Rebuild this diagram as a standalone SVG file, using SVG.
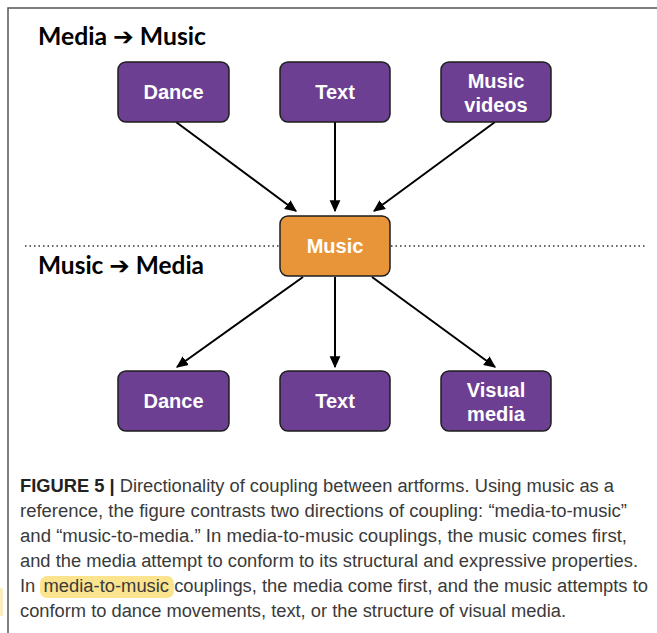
<svg xmlns="http://www.w3.org/2000/svg" width="657" height="633" viewBox="0 0 657 633">
<defs>
<marker id="ah" viewBox="0 0 10 10" refX="9" refY="5" markerWidth="6" markerHeight="6" orient="auto" markerUnits="strokeWidth">
<path d="M0,0.5 L10,5 L0,9.5 Z" fill="#000"/>
</marker>
<style>
.box{fill:#6d3f92;stroke:#1e1e1e;stroke-width:1.5}
.ctr{fill:#e8953a;stroke:#1e1e1e;stroke-width:1.5}
.lbl{font-family:"Liberation Sans",Arial,sans-serif;font-weight:bold;font-size:20px;fill:#fff;text-anchor:middle}
.head{font-family:Lato,"Open Sans","DejaVu Sans",sans-serif;font-weight:bold;font-size:24px;fill:#000}
.cap{font-family:"Liberation Sans",Arial,sans-serif;font-size:18px;fill:#3a3a3a}
.conn line{stroke:#000;stroke-width:2;marker-end:url(#ah)}
.dot{stroke:#333;stroke-width:1.3;stroke-dasharray:1.5 3}
</style>
</defs>
<rect width="657" height="633" fill="#fff"/>
<rect x="0" y="588" width="3" height="28" fill="#fcefbf"/>
<path d="M8,633 V8 H657" fill="none" stroke="#555" stroke-width="1.5"/>
<line class="dot" x1="25" y1="246" x2="280" y2="246"/>
<line class="dot" x1="391" y1="246" x2="645" y2="246"/>
<text class="head" x="38" y="45" textLength="168" lengthAdjust="spacingAndGlyphs">Media ➔ Music</text>
<text class="head" x="38" y="274" textLength="166" lengthAdjust="spacingAndGlyphs">Music ➔ Media</text>
<g class="conn">
<line x1="176" y1="122" x2="296" y2="211"/>
<line x1="335" y1="122" x2="335" y2="211"/>
<line x1="495" y1="122" x2="374" y2="211"/>
<line x1="303" y1="277" x2="177" y2="367"/>
<line x1="335" y1="277" x2="335" y2="367"/>
<line x1="372" y1="277" x2="495" y2="367"/>
</g>
<g id="n-dance-top"><rect class="box" x="118" y="62" width="111" height="60" rx="8"/><text class="lbl" x="173.5" y="99">Dance</text></g>
<g id="n-text-top"><rect class="box" x="280" y="62" width="110" height="60" rx="8"/><text class="lbl" x="335" y="99">Text</text></g>
<g id="n-musicvideos"><rect class="box" x="441" y="62" width="110" height="60" rx="8"/><text class="lbl" x="496" y="88">Music</text><text class="lbl" x="496" y="112">videos</text></g>
<g id="n-music"><rect class="ctr" x="280" y="216" width="110" height="60" rx="8"/><text class="lbl" x="335" y="253">Music</text></g>
<g id="n-dance-bot"><rect class="box" x="118" y="371" width="111" height="60" rx="8"/><text class="lbl" x="173.5" y="408">Dance</text></g>
<g id="n-text-bot"><rect class="box" x="280" y="371" width="110" height="60" rx="8"/><text class="lbl" x="335" y="408">Text</text></g>
<g id="n-visualmedia"><rect class="box" x="441" y="371" width="110" height="60" rx="8"/><text class="lbl" x="496" y="397">Visual</text><text class="lbl" x="496" y="421">media</text></g>
<rect x="40" y="576" width="134" height="22" rx="7" fill="#fce48f"/>
<text class="cap" x="20" y="492" textLength="594" lengthAdjust="spacingAndGlyphs"><tspan font-weight="bold" fill="#222">FIGURE 5 |</tspan> Directionality of coupling between artforms. Using music as a</text>
<text class="cap" x="20" y="517" textLength="607" lengthAdjust="spacingAndGlyphs">reference, the figure contrasts two directions of coupling: “media-to-music”</text>
<text class="cap" x="20" y="542" textLength="607" lengthAdjust="spacingAndGlyphs">and “music-to-media.” In media-to-music couplings, the music comes first,</text>
<text class="cap" x="20" y="567" textLength="618" lengthAdjust="spacingAndGlyphs">and the media attempt to conform to its structural and expressive properties.</text>
<text class="cap" x="20" y="592" textLength="628" lengthAdjust="spacingAndGlyphs">In <tspan dx="3">media-to-music</tspan> couplings, the media come first, and the music attempts to</text>
<text class="cap" x="20" y="617" textLength="546" lengthAdjust="spacingAndGlyphs">conform to dance movements, text, or the structure of visual media.</text>
</svg>
